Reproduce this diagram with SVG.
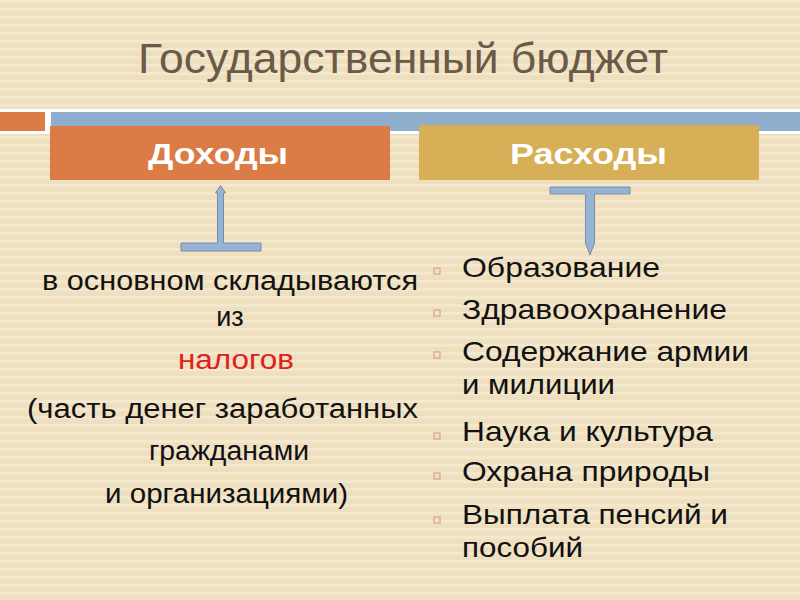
<svg xmlns="http://www.w3.org/2000/svg" width="800" height="600" viewBox="0 0 800 600">
<defs>
<pattern id="stripes" x="0" y="0" width="8" height="8" patternUnits="userSpaceOnUse">
<rect width="8" height="8" fill="#EEDFBE"/>
<rect y="0" width="8" height="3" fill="#F3E7CD"/>
</pattern>
<style>
text{font-family:"Liberation Sans",Arial,sans-serif}
.title{font-size:42px;fill:#6B5A48}
.head{font-size:30px;font-weight:bold;fill:#FFFFFF}
.left{font-size:27px;fill:#111111}
.red{fill:#E0201A}
.right{font-size:28px;fill:#111111}
.bullet{fill:none;stroke:#D8A58A;stroke-width:1.2}
.arrow{fill:#95B3D7;stroke:#7A8BA3;stroke-width:1}
</style>
</defs>
<rect width="800" height="600" fill="url(#stripes)"/>
<text class="title" x="138" y="73" textLength="530" lengthAdjust="spacingAndGlyphs">Государственный бюджет</text>
<g id="topbar">
<rect x="0" y="109" width="800" height="25" fill="#FFFFFF"/>
<rect x="0" y="112" width="45" height="19" fill="#DB7B45"/>
<rect x="51" y="112" width="749" height="19" fill="#8FAECD"/>
</g>
<g id="dohody">
<rect x="50" y="126" width="340" height="54" fill="#DB7B45"/>
<text class="head" x="148" y="164" textLength="140" lengthAdjust="spacingAndGlyphs">Доходы</text>
</g>
<g id="rashody">
<rect x="419" y="125" width="340" height="55" fill="#D6AF56"/>
<text class="head" x="510" y="164" textLength="157" lengthAdjust="spacingAndGlyphs">Расходы</text>
</g>
<g id="connectors">
<path class="arrow" d="M181,243 H217.5 V193 H215.5 L220.5,185.5 L225.5,193 H223.5 V243 H261 V251 H181 Z"/>
<path class="arrow" d="M550,187 H630 V194 H594.5 V243 L590,255 L585.5,243 V194 H550 Z"/>
</g>
<g id="income-text">
<text class="left" x="42" y="290" textLength="376" lengthAdjust="spacingAndGlyphs">в основном складываются</text>
<text class="left" x="230" y="326" text-anchor="middle">из</text>
<text class="left red" x="178" y="369" textLength="116" lengthAdjust="spacingAndGlyphs">налогов</text>
<text class="left" x="27" y="418" textLength="391" lengthAdjust="spacingAndGlyphs">(часть денег заработанных</text>
<text class="left" x="149" y="460" textLength="160" lengthAdjust="spacingAndGlyphs">гражданами</text>
<text class="left" x="105" y="503" textLength="243" lengthAdjust="spacingAndGlyphs">и организациями)</text>
</g>
<g id="expenses-list">
<rect class="bullet" x="434" y="268" width="6" height="6"/>
<text class="right" x="462" y="277" textLength="198" lengthAdjust="spacingAndGlyphs">Образование</text>
<rect class="bullet" x="434" y="310" width="6" height="6"/>
<text class="right" x="462" y="319" textLength="265" lengthAdjust="spacingAndGlyphs">Здравоохранение</text>
<rect class="bullet" x="434" y="352" width="6" height="6"/>
<text class="right" x="462" y="361" textLength="287" lengthAdjust="spacingAndGlyphs">Содержание армии</text>
<text class="right" x="462" y="394" textLength="153" lengthAdjust="spacingAndGlyphs">и милиции</text>
<rect class="bullet" x="434" y="433" width="6" height="6"/>
<text class="right" x="462" y="441" textLength="251" lengthAdjust="spacingAndGlyphs">Наука и культура</text>
<rect class="bullet" x="434" y="473" width="6" height="6"/>
<text class="right" x="462" y="481" textLength="248" lengthAdjust="spacingAndGlyphs">Охрана природы</text>
<rect class="bullet" x="434" y="517" width="6" height="6"/>
<text class="right" x="462" y="524" textLength="266" lengthAdjust="spacingAndGlyphs">Выплата пенсий и</text>
<text class="right" x="462" y="557" textLength="121" lengthAdjust="spacingAndGlyphs">пособий</text>
</g>
</svg>
